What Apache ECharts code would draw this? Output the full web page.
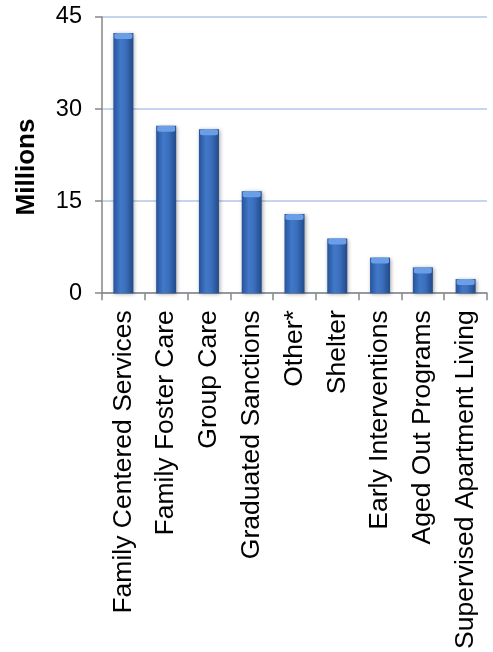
<!DOCTYPE html>
<html>
<head>
<meta charset="utf-8">
<script src="https://cdn.jsdelivr.net/npm/echarts@6/dist/echarts.min.js"></script>
<style>
html,body{margin:0;padding:0;background:#fff;}
#chart{width:493px;height:652px;}
</style>
</head>
<body>
<div id="chart"></div>
<script>
var categories = ["Family Centered Services","Family Foster Care","Group Care","Graduated Sanctions","Other*","Shelter","Early Interventions","Aged Out Programs","Supervised Apartment Living"];
var values = [42.4, 27.3, 26.7, 16.6, 12.9, 8.9, 5.8, 4.2, 2.3];
var yTicks = [0, 15, 30, 45];
var axisTitle = "Millions";

var FONT = "'Liberation Sans', Arial, sans-serif";
var chart = echarts.init(document.getElementById('chart'));
chart.setOption({
  animation: false,
  backgroundColor: '#ffffff',
  grid: {left: 102, right: 6, top: 17, bottom: 357},
  xAxis: {
    type: 'category',
    data: categories,
    axisLine: {lineStyle: {color: '#868686', width: 1.5}},
    axisTick: {show: true, length: 7, lineStyle: {color: '#868686', width: 1.5}},
    axisLabel: {rotate: 90, margin: 17, color: '#000', fontSize: 26.5, fontFamily: FONT, interval: 0}
  },
  yAxis: {
    type: 'value',
    min: yTicks[0],
    max: yTicks[yTicks.length - 1],
    interval: yTicks[1] - yTicks[0],
    axisLine: {show: true, lineStyle: {color: '#868686', width: 1.5}},
    axisTick: {show: true, length: 7, lineStyle: {color: '#868686', width: 1.5}},
    axisLabel: {margin: 20, color: '#000', fontSize: 23.5, fontFamily: FONT},
    splitLine: {lineStyle: {color: '#b4c6ea', width: 1.5}}
  },
  graphic: [{
    type: 'text',
    x: 27, y: 167,
    rotation: Math.PI / 2,
    style: {text: axisTitle, fill: '#000', font: 'bold 26px ' + FONT, textAlign: 'center', textVerticalAlign: 'middle'}
  }],
  series: [{
    type: 'bar',
    data: values,
    barWidth: 20,
    itemStyle: {
      color: new echarts.graphic.LinearGradient(0, 0, 1, 0, [
        {offset: 0, color: '#26539a'},
        {offset: 0.35, color: '#4178c8'},
        {offset: 0.6, color: '#3c70bf'},
        {offset: 1, color: '#214a88'}
      ]),
      shadowBlur: 4,
      shadowColor: 'rgba(0,0,0,0.35)',
      shadowOffsetX: 1,
      shadowOffsetY: 1
    }
  }, {
    type: 'pictorialBar',
    data: values,
    symbol: 'roundRect',
    symbolSize: [18, 6],
    symbolPosition: 'end',
    symbolOffset: [0, 0],
    z: 3,
    itemStyle: {color: '#6a9ee6'}
  }]
});
</script>
</body>
</html>
